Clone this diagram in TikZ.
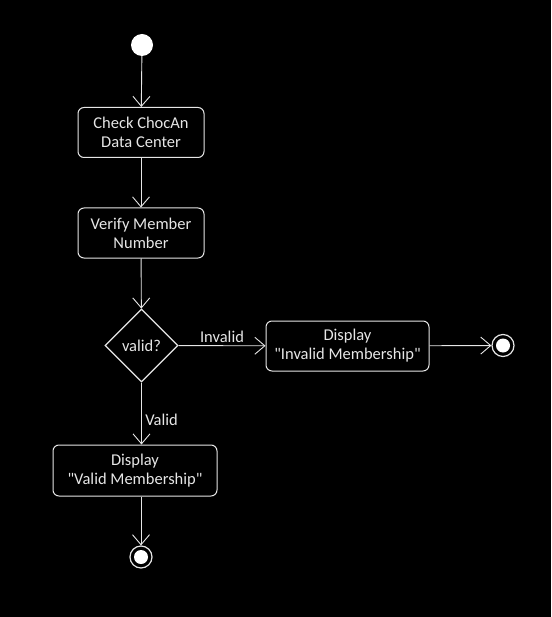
\documentclass[tikz,border=0pt]{standalone}
\usepackage{fontspec}
\setmainfont{Carlito}[Ligatures=TeXOff]
\usetikzlibrary{shapes.geometric,arrows.meta}
\definecolor{ln}{HTML}{E6E6E6}
\begin{document}
\begin{tikzpicture}[x=1pt,y=-1pt,
  every node/.style={font=\fontsize{16.5}{19}\selectfont, text=ln},
  act/.style={draw=ln, line width=1pt, fill=black, rounded corners=6pt, minimum height=50pt, align=center, inner sep=0pt},
  dec/.style={draw=ln, line width=1.2pt, fill=black, diamond, minimum width=73pt, minimum height=73pt, inner sep=0pt},
  flow/.style={draw=ln, line width=0.9pt, -{Straight Barb[length=10pt,width=17pt,line width=0.9pt]}},
  lbl/.style={font=\fontsize{16.5}{19}\selectfont, text=ln}]
\fill[black] (0,0) rectangle (551,617);
\useasboundingbox (0,0) rectangle (551,617);
\node[circle, fill=white, minimum size=22pt, inner sep=0pt] (start) at (142,45) {};
\node[act, minimum width=126pt] (check) at (141,132.5) {Check ChocAn\\Data Center};
\node[act, minimum width=126pt] (verify) at (141,233) {Verify Member\\Number};
\node[dec] (valid) at (141.5,345.5) {valid?};
\node[act, minimum width=163pt] (inv) at (347.5,346) {Display\\"Invalid Membership"};
\node[act, minimum width=164pt, minimum height=51pt] (val) at (135,470.5) {Display\\"Valid Membership"};
\node[circle, draw=ln, line width=1.2pt, minimum size=22pt, inner sep=0pt] (endr) at (503,345.5) {};
\fill[white] (endr.center) circle (7pt);
\node[circle, draw=ln, line width=1.2pt, minimum size=22pt, inner sep=0pt] (endb) at (141,557) {};
\fill[white] (endb.center) circle (7pt);
\draw[flow] (start) -- (check);
\draw[flow] (check) -- (verify);
\draw[flow] (verify) -- (valid);
\draw[flow] (valid) -- node[lbl, above, pos=0.5, yshift=-1pt] {Invalid} (inv);
\draw[flow] (valid.south) -- node[lbl, right, pos=0.6] {Valid} (valid.south |- val.north);
\draw[flow] (inv) -- (endr);
\draw[flow] (val.south -| endb) -- (endb);
\end{tikzpicture}
\end{document}
